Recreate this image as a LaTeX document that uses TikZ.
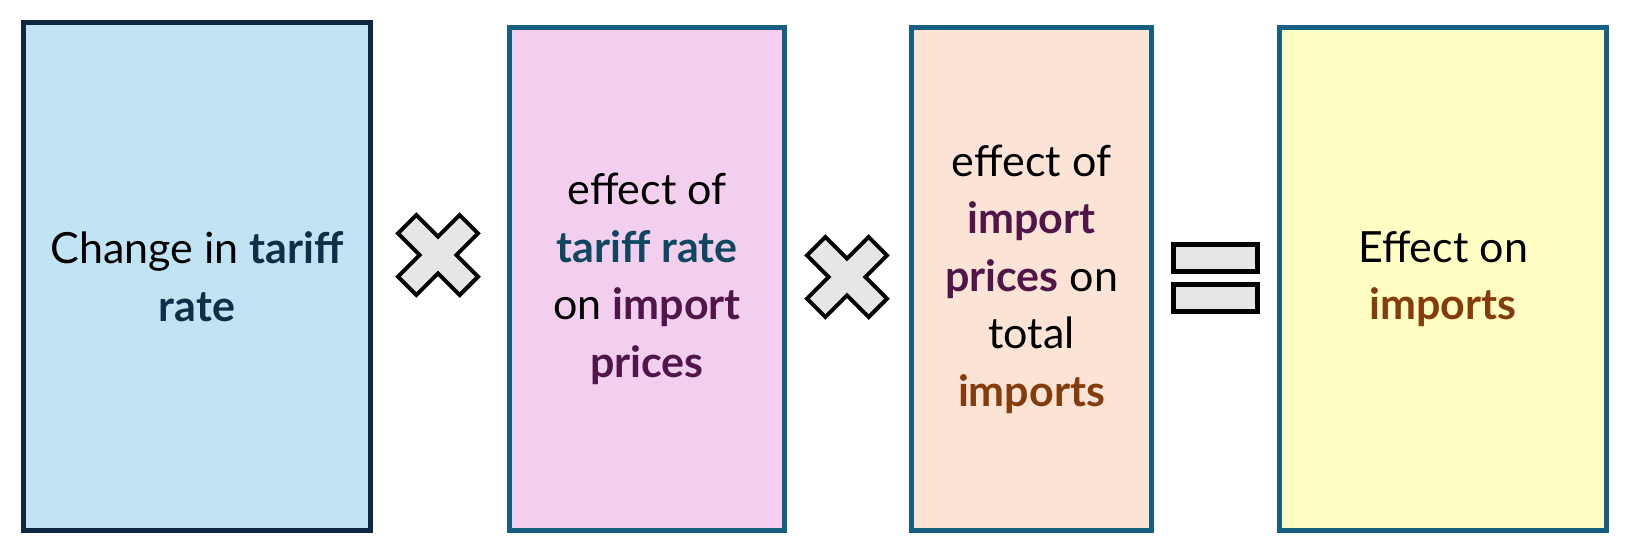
\documentclass[tikz,border=0pt]{standalone}
\usepackage{fontspec}
\setmainfont{Lato}
\definecolor{navy}{HTML}{0E2841}
\definecolor{teal}{HTML}{156082}
\definecolor{tealtext}{HTML}{0F4761}
\definecolor{navytext}{HTML}{0E2F47}
\definecolor{plum}{HTML}{501549}
\definecolor{rust}{HTML}{843C0C}
\definecolor{fillblue}{HTML}{C1E4F5}
\definecolor{fillpink}{HTML}{F2CFEE}
\definecolor{fillpeach}{HTML}{FBE3D6}
\definecolor{fillyellow}{HTML}{FFFEC3}
\definecolor{symfill}{HTML}{E6E6E6}
\tikzset{
  factorbox/.style={draw=teal, line width=5pt, align=center, inner sep=0pt,
    font=\fontsize{43}{57.5}\selectfont},
  opsym/.style={draw=black, fill=symfill, line width=4pt, line join=miter},
}
\begin{document}
\begin{tikzpicture}[x=1pt,y=-1pt]
\useasboundingbox (0,0) rectangle (1630,552);
\node[factorbox, draw=navy, fill=fillblue, minimum width=347pt, minimum height=508pt] (b1) at (197,276.5)
  {Change in \textbf{\color{navytext}tariff}\\\textbf{\color{navytext}rate}};
\node[factorbox, fill=fillpink, minimum width=275pt, minimum height=503pt] (b2) at (647,279)
  {effect of\\\textbf{\color{tealtext}tariff rate}\\on \textbf{\color{plum}import}\\\textbf{\color{plum}prices}};
\node[factorbox, fill=fillpeach, minimum width=240pt, minimum height=503pt] (b3) at (1031.5,279)
  {effect of\\\textbf{\color{plum}import}\\\textbf{\color{plum}prices} on\\total\\\textbf{\color{rust}imports}};
\node[factorbox, fill=fillyellow, minimum width=327pt, minimum height=503pt] (b4) at (1443,279)
  {Effect on\\\textbf{\color{rust}imports}};
% multiplication signs
\foreach \cx/\cy in {438/255, 847/277}{
  \draw[opsym, shift={(\cx,\cy)}, rotate=45]
    (13,13) -- (43.6,13) -- (43.6,-13) -- (13,-13) -- (13,-43.6) -- (-13,-43.6)
    -- (-13,-13) -- (-43.6,-13) -- (-43.6,13) -- (-13,13) -- (-13,43.6) -- (13,43.6) -- cycle;
}
% equals sign
\draw[opsym, line width=5pt] (1173.5,244.5) rectangle (1257.5,271.5);
\draw[opsym, line width=5pt] (1173.5,284.5) rectangle (1257.5,311.5);
\end{tikzpicture}
\end{document}
